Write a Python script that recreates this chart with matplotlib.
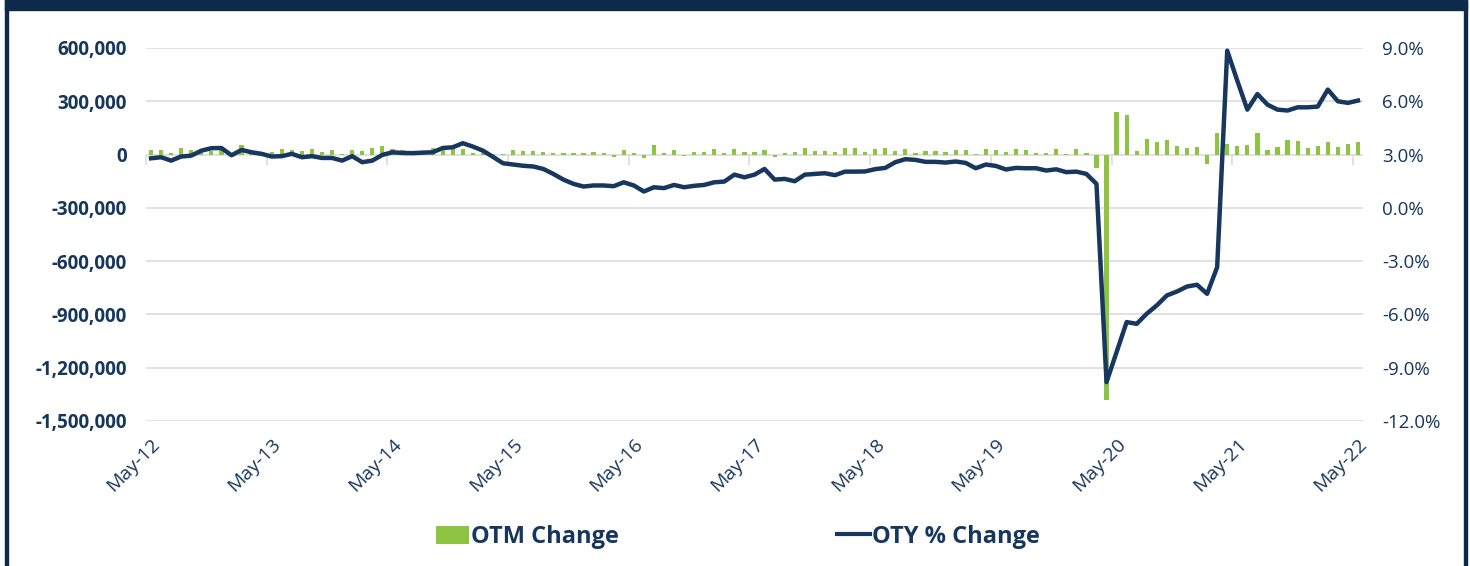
import matplotlib
matplotlib.use("Agg")
import matplotlib.pyplot as plt
from matplotlib.lines import Line2D
from matplotlib.patches import Patch, Rectangle
from matplotlib.ticker import FuncFormatter, FixedLocator

plt.rcParams["font.family"] = ["Open Sans", "DejaVu Sans"]

NAVY = "#17375e"
TEXT = "#17365d"
GREEN = "#8dc441"
GRID = "#d9d9d9"

# months May-2012 .. May-2022, one value per month
tick_labels = ["May-12", "May-13", "May-14", "May-15", "May-16", "May-17",
               "May-18", "May-19", "May-20", "May-21", "May-22"]

# over-the-month change, thousands of jobs
otm_change_k = [
    26, 26, 11, 36, 26, 22, 22, 26, 10, 56,
    13, 4, 13, 32, 26, 19, 32, 13, 28, 6,
    24, 22, 36, 49, 32, 28, 22, 19, 36, 32,
    32, 32, 8, 8, 5, 6, 26, 22, 22, 13,
    11, 8, 8, 11, 15, 8, -11, 28, 8, -19,
    52, 8, 28, -8, 15, 17, 30, 11, 34, 13,
    17, 26, -15, 9, 13, 38, 19, 22, 15, 38,
    36, 17, 32, 36, 21, 32, 9, 22, 19, 17,
    24, 28, 6, 32, 28, 17, 34, 24, 11, 9,
    30, 2, 30, 10, -75, -1384, 238, 225, 22, 90,
    69, 84, 51, 36, 43, -52, 120, 62, 51, 56,
    120, 24, 45, 84, 79, 38, 51, 68, 41, 60, 73,
]

# over-the-year change, percent
oty_pct = [
    2.79, 2.85, 2.66, 2.89, 2.94, 3.22, 3.36, 3.37, 2.96, 3.26,
    3.13, 3.04, 2.89, 2.91, 3.04, 2.85, 2.91, 2.81, 2.81, 2.66,
    2.91, 2.57, 2.66, 2.98, 3.13, 3.09, 3.08, 3.11, 3.13, 3.37,
    3.41, 3.64, 3.45, 3.22, 2.87, 2.51, 2.44, 2.37, 2.33, 2.19,
    1.91, 1.59, 1.35, 1.20, 1.26, 1.26, 1.22, 1.44, 1.26, 0.92,
    1.16, 1.11, 1.29, 1.16, 1.24, 1.29, 1.44, 1.48, 1.87, 1.72,
    1.87, 2.19, 1.59, 1.63, 1.50, 1.87, 1.91, 1.95, 1.84, 2.04,
    2.04, 2.05, 2.18, 2.25, 2.57, 2.74, 2.70, 2.59, 2.59, 2.55,
    2.61, 2.53, 2.23, 2.44, 2.36, 2.16, 2.25, 2.23, 2.23, 2.10,
    2.17, 2.01, 2.04, 1.91, 1.35, -9.81, -8.12, -6.43, -6.53, -5.96,
    -5.49, -4.93, -4.71, -4.43, -4.33, -4.84, -3.34, 8.85, 7.16, 5.53,
    6.41, 5.81, 5.53, 5.48, 5.66, 5.66, 5.70, 6.66, 6.00, 5.91, 6.04,
]

left_ticks = [600000, 300000, 0, -300000, -600000, -900000, -1200000, -1500000]
right_ticks = [9.0, 6.0, 3.0, 0.0, -3.0, -6.0, -9.0, -12.0]

W, H = 1470, 566
fig = plt.figure(figsize=(W / 100, H / 100), dpi=100)
ax = fig.add_axes([146 / W, 1 - 421 / H, (1363 - 146) / W, (421 - 48) / H])

x = list(range(len(otm_change_k)))
bars = [v * 1000 for v in otm_change_k]

ymin, ymax = min(left_ticks), max(left_ticks)
ax.set_ylim(ymin, ymax)
ax.set_xlim(-0.5, len(x) - 0.5)
ax.set_yticks(left_ticks)
ax.yaxis.set_major_formatter(FuncFormatter(lambda v, p: f"{v:,.0f}"))
ax.grid(axis="y", color=GRID, lw=1.1)
ax.set_axisbelow(True)
for s in ax.spines.values():
    s.set_visible(False)
ax.tick_params(axis="y", length=0, pad=14, labelsize=13.5, labelcolor=TEXT)
for lab in ax.get_yticklabels():
    lab.set_fontweight("bold")

ax.bar(x, bars, width=0.42, color=GREEN, zorder=2)

# category labels at the bottom, tick marks on the zero line
ax.set_xticks(x[::12])
ax.set_xticklabels(tick_labels, rotation=45, ha="right", va="top",
                   rotation_mode="anchor", fontsize=14, color=TEXT)
ax.tick_params(axis="x", length=0, pad=10)

zero_pos = (0 - ymin) / (ymax - ymin)
cat = ax.secondary_xaxis(zero_pos)
cat.xaxis.set_major_locator(FixedLocator([i - 0.5 for i in x[::12]]))
cat.tick_params(axis="x", direction="in", length=7, width=1.1, color=GRID,
                labelbottom=False, labeltop=False)
cat.spines["bottom"].set_color(GRID)
cat.spines["bottom"].set_linewidth(1.3)
cat.spines["top"].set_visible(False)

ax2 = ax.twinx()
ax2.set_ylim(min(right_ticks), max(right_ticks))
ax2.set_yticks(right_ticks)
ax2.yaxis.set_major_formatter(FuncFormatter(lambda v, p: f"{v:.1f}%"))
ax2.tick_params(axis="y", length=0, pad=14, labelsize=13.5, labelcolor=TEXT)
for s in ax2.spines.values():
    s.set_visible(False)
ax2.plot(x, oty_pct, color=NAVY, lw=3.2, solid_joinstyle="round", zorder=3)

handles = [Patch(facecolor=GREEN, edgecolor="none"),
           Line2D([0], [0], color=NAVY, lw=3)]
leg = fig.legend(handles, ["OTM Change", "OTY % Change"], loc="center",
                 bbox_to_anchor=(0.502, 1 - 537 / H), ncol=2, frameon=False,
                 handlelength=1.4, handleheight=0.8, handletextpad=0.1,
                 columnspacing=9.2, prop={"size": 17, "weight": "bold"})
for t in leg.get_texts():
    t.set_color(TEXT)

# frame: top bar and side borders
fig.patches.append(Rectangle((5 / W, 1 - 10 / H), (1467 - 5) / W, 10 / H,
                             transform=fig.transFigure, color="#0e2a4a"))
fig.patches.append(Rectangle((5 / W, 0), 3 / W, 1, transform=fig.transFigure,
                             color="#0e2a4a"))
fig.patches.append(Rectangle((1464 / W, 0), 3 / W, 1, transform=fig.transFigure,
                             color="#0e2a4a"))

fig.savefig("out.png", dpi=100)
